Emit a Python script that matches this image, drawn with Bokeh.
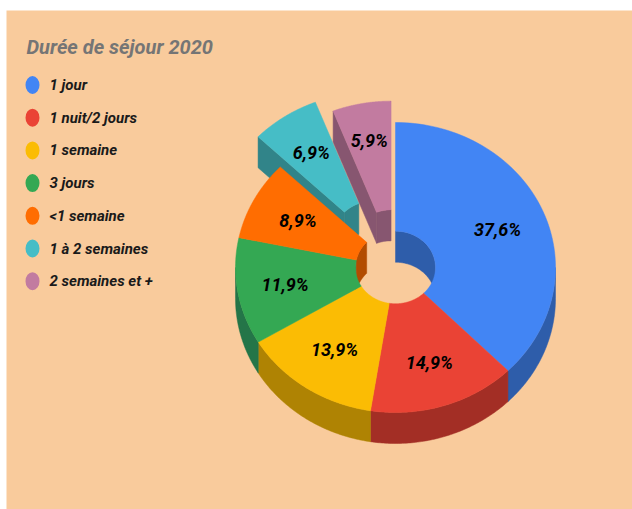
import numpy as np
from bokeh.plotting import figure
from bokeh.models import Range1d
from bokeh.core.properties import value
from bokeh.embed import file_html
from bokeh.resources import INLINE

title = "Durée de séjour 2020"
categories = ["1 jour", "1 nuit/2 jours", "1 semaine", "3 jours", "<1 semaine", "1 à 2 semaines", "2 semaines et +"]
shares = [37.6, 14.9, 13.9, 11.9, 8.9, 6.9, 5.9]
labels = ["37,6%", "14,9%", "13,9%", "11,9%", "8,9%", "6,9%", "5,9%"]
colors = ["#4285F4", "#EA4335", "#FBBC04", "#34A853", "#FF6D01", "#46BDC6", "#C27BA0"]
walls = ["#2E5DAA", "#A32E25", "#AF8303", "#247548", "#B24C00", "#318489", "#875670"]
explode = [0, 0, 0, 0, 0, 0.25, 0.15]
label_r = [0.69, 0.69, 0.68, 0.70, 0.69, 0.70, 0.74]

BG = "#F9CB9C"
PAGE_W, PAGE_H = 632, 509
LEFT, TOP = 6, 10
W, H = PAGE_W - LEFT, PAGE_H - TOP
CX, CY, RX, RY = 395, 267, 160, 145
HOLE = 0.25
DEPTH = 31
FONT = value("Roboto")

p = figure(width=W, height=H, x_range=Range1d(LEFT, PAGE_W), y_range=Range1d(PAGE_H, TOP),
           toolbar_location=None, output_backend="svg", min_border=0,
           background_fill_color=BG, border_fill_color=BG, outline_line_color=None)
p.axis.visible = False
p.grid.visible = False
p.margin = (TOP, 0, 0, LEFT)


def pt(theta, frac, off=0.0):
    a = np.radians(theta)
    return (CX + RX * (frac * np.sin(a) + off * np.sin(off_a[0])),
            CY - RY * (frac * np.cos(a) + off * np.cos(off_a[0])))


off_a = [0.0]


def arc(t0, t1, frac, off=0.0, dy=0.0):
    ts = np.linspace(t0, t1, 80)
    x, y = pt(ts, frac, off)
    return x, y + dy


def draw(xs, ys, color):
    p.patch(list(xs), list(ys), fill_color=color, line_color=color, line_width=0.5)


def outer_wall(t0, t1, color):
    x, y = arc(t0, t1, 1)
    draw(np.r_[x, x[::-1]], np.r_[y, y[::-1] + DEPTH], color)


def inner_wall(t0, t1, color, off=0.0):
    x, y = arc(t0, t1, HOLE, off)
    draw(np.r_[x, x[::-1]], np.r_[y, y[::-1] + DEPTH], color)


def radial_wall(t, color, off):
    x0, y0 = pt(np.array([t]), 1, off)
    x1, y1 = pt(np.array([t]), HOLE, off)
    draw([x0[0], x1[0], x1[0], x0[0]], [y0[0], y1[0], y1[0] + DEPTH, y0[0] + DEPTH], color)


def face(t0, t1, color, off=0.0):
    xo, yo = arc(t0, t1, 1, off)
    xi, yi = arc(t1, t0, HOLE, off)
    draw(np.r_[xo, xi], np.r_[yo, yi], color)


edges = np.r_[0, np.cumsum(shares)] * 3.6
mids = (edges[:-1] + edges[1:]) / 2

# exploded slices sit behind the ring
for i in (5, 6):
    off_a[0] = np.radians(mids[i])
    radial_wall(edges[i], walls[i], explode[i])
    inner_wall(edges[i], edges[i + 1], walls[i], explode[i])
    face(edges[i], edges[i + 1], colors[i], explode[i])
off_a[0] = 0.0

# walls of the ring, front outer side and back of the hole
for i in range(5):
    t0, t1 = edges[i], edges[i + 1]
    a, b = max(t0, 90), min(t1, 270)
    if a < b:
        outer_wall(a, b, walls[i])
    if t0 < 90:
        inner_wall(t0, min(t1, 90), walls[i])
    if t1 > 270:
        inner_wall(max(t0, 270), t1, walls[i])

# top faces of the ring
for i in range(5):
    face(edges[i], edges[i + 1], colors[i])

# value labels
for i in range(7):
    off_a[0] = np.radians(mids[i])
    lx, ly = pt(np.array([mids[i]]), label_r[i], explode[i])
    p.text([lx[0]], [ly[0]], text=[labels[i]], text_font=FONT, text_font_style="bold italic",
           text_font_size="18px", text_color="#000000", text_align="center", text_baseline="middle")
off_a[0] = 0.0

# title and legend
p.text([26], [46.5], text=[title], text_font=FONT, text_font_style="bold italic", text_font_size="20px",
       text_color="#757575", text_align="left", text_baseline="middle")
for i, c in enumerate(categories):
    y = 84.5 + i * 32.7
    p.ellipse([32], [y], width=14, height=18, fill_color=colors[i], line_color=None)
    p.text([49], [y], text=[c], text_font=FONT, text_font_style="bold italic", text_font_size="15px",
           text_color="#1A1A1A", text_align="left", text_baseline="middle")

open("out.html", "w").write(file_html(p, INLINE))
